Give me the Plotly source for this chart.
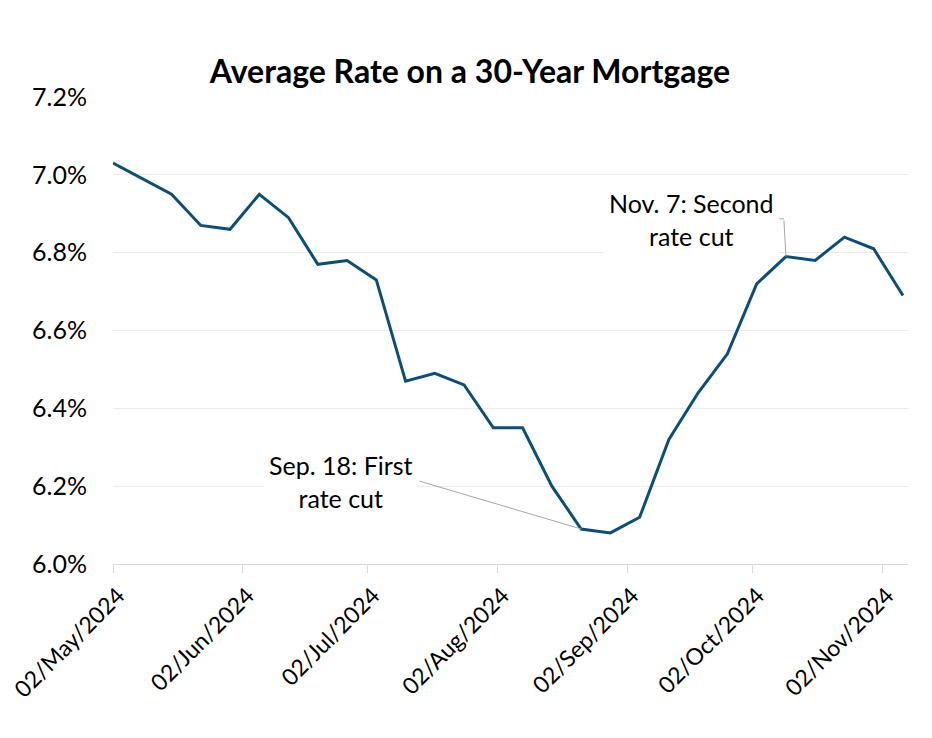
import plotly.graph_objects as go
import pandas as pd

# ---- data ----
dates = pd.date_range("2024-05-02", "2024-11-07", freq="7D").strftime("%Y-%m-%d").tolist()
rates = [7.03, 6.99, 6.95, 6.87, 6.86, 6.95, 6.89, 6.77, 6.78, 6.73,
         6.47, 6.49, 6.46, 6.35, 6.35, 6.20, 6.09, 6.08, 6.12, 6.32,
         6.44, 6.54, 6.72, 6.79, 6.78, 6.84, 6.81, 6.69]
tick_vals = ["2024-05-02", "2024-06-02", "2024-07-02", "2024-08-02",
             "2024-09-02", "2024-10-02", "2024-11-02"]
tick_text = ["02/May/2024", "02/Jun/2024", "02/Jul/2024", "02/Aug/2024",
             "02/Sep/2024", "02/Oct/2024", "02/Nov/2024"]
y_ticks = [6.0, 6.2, 6.4, 6.6, 6.8, 7.0, 7.2]
y_labels = ["6.0%", "6.2%", "6.4%", "6.6%", "6.8%", "7.0%", "7.2%"]

FONT = "Lato, 'Noto Sans', sans-serif"
LINE = "#0b4f78"
GRID = "#ebebeb"
LEAD = "#a6a6a6"

W, H = 924, 730  # page body has an 8px margin

fig = go.Figure()
fig.add_trace(go.Scatter(x=dates, y=rates, mode="lines",
                         line=dict(color=LINE, width=3), hoverinfo="x+y"))

fig.update_layout(
    width=W, height=H,
    margin=dict(l=105, r=24, t=89, b=174, autoexpand=False),
    paper_bgcolor="white", plot_bgcolor="white",
    showlegend=False,
    font=dict(family=FONT, color="#000000"),
    title=dict(text="<b>Average Rate on a 30-Year Mortgage</b>",
               x=462 / W, xanchor="center", y=1 - 64 / H, yanchor="middle",
               font=dict(family=FONT, size=32, color="#000000")),
    xaxis=dict(type="date", range=["2024-05-02", "2024-11-08 05:00"],
               tickvals=tick_vals, ticktext=tick_text, tickangle=-45,
               tickfont=dict(size=23, family=FONT, color="#000000"),
               ticks="outside", ticklen=8, tickcolor="#d9d9d9", tickwidth=1,
               showgrid=False, showline=True, linecolor="#d9d9d9", linewidth=1,
               zeroline=False, fixedrange=True, automargin=False,
               ticklabeloverflow="allow", ticklabelshift=5),
    yaxis=dict(range=[6.0, 7.2], tickvals=y_ticks, ticktext=y_labels,
               tickfont=dict(size=25, family=FONT, color="#000000"),
               showgrid=True, gridcolor=GRID, gridwidth=1,
               showline=False, zeroline=False, ticks="",
               ticklabelstandoff=25, fixedrange=True, automargin=False,
               ticklabeloverflow="allow"),
)

# text boxes
fig.add_annotation(x="2024-06-25 12:00", y=6.212, xref="x", yref="y",
                   text="Sep. 18: First<br>rate cut", showarrow=False,
                   font=dict(family=FONT, size=25, color="#000000"),
                   bgcolor="white", borderpad=4, align="center")
fig.add_annotation(x="2024-09-17 12:00", y=6.884, xref="x", yref="y",
                   text="Nov. 7: Second<br>rate cut", showarrow=False,
                   font=dict(family=FONT, size=25, color="#000000"),
                   bgcolor="white", borderpad=4, align="center")

# leader lines
fig.add_annotation(x=dates[16], y=rates[16], xref="x", yref="y",
                   ax="2024-07-14", ay=6.214, axref="x", ayref="y",
                   text="", showarrow=True, arrowhead=0, arrowwidth=1,
                   arrowcolor=LEAD, standoff=0, startstandoff=0)
fig.add_annotation(x=dates[23], y=rates[23], xref="x", yref="y",
                   ax="2024-10-09 12:00", ay=6.887, axref="x", ayref="y",
                   text="", showarrow=True, arrowhead=0, arrowwidth=1,
                   arrowcolor=LEAD, standoff=0, startstandoff=0)
fig.add_annotation(x="2024-10-09 12:00", y=6.887, xref="x", yref="y",
                   ax="2024-10-08 02:00", ay=6.887, axref="x", ayref="y",
                   text="", showarrow=True, arrowhead=0, arrowwidth=1,
                   arrowcolor=LEAD, standoff=0, startstandoff=0)

fig.write_html("out.html", config={"displayModeBar": False})
